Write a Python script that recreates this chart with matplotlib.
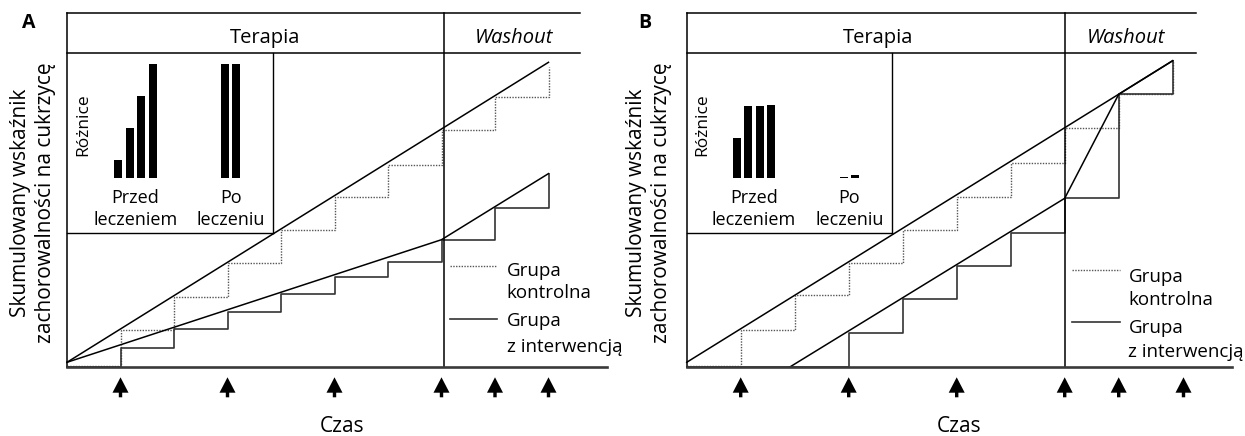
import matplotlib
matplotlib.use("Agg")
import matplotlib.pyplot as plt
import numpy as np

plt.rcParams['font.family'] = ['Open Sans', 'DejaVu Sans']

# time points of the step changes (both panels)
steps = [0, 1, 2, 3, 4, 5, 6, 7, 8, 9]

# panel A
a_control_steps = [0.13, 3.7, 7.0, 10.4, 13.7, 17.0, 20.2, 23.7, 27.0, 30.0]
a_interv_steps = [0.0, 1.9, 3.8, 5.5, 7.3, 9.0, 10.55, 12.7, 15.9, 19.3]
a_control_trend_t = [0, 9]
a_control_trend = [0.47, 30.47]
a_interv_trend_t = [0, 7, 9]
a_interv_trend = [0.47, 12.73, 19.34]
a_arrows = [1, 3, 5, 7, 8, 9]
a_bars_before = [1.6, 4.4, 7.2, 10.0]
a_bars_after = [10.0, 10.0]

# panel B
b_control_steps = [0.13, 3.7, 7.17, 10.41, 13.72, 17.02, 20.4, 23.87, 27.27, 30.63]
b_interv_steps = [0.0, 0.0, 0.0, 3.4, 6.78, 10.08, 13.35, 16.87, 27.27, 30.63]
b_control_trend_t = [0, 9]
b_control_trend = [0.47, 30.63]
b_interv_trend_t = [1.91, 7, 8, 9]
b_interv_trend = [0, 16.87, 27.27, 30.63]
b_arrows = [1, 3, 5, 7, 8, 9.2]
b_bars_before = [3.55, 6.3, 6.3, 6.4]
b_bars_after = [0.1, 0.3]

W, H = 1245, 436
fig = plt.figure(figsize=(W / 100, H / 100), dpi=100)

XMAX, YMAX = 10.1, 35.4
HEAD = 31.37
BOX_Y = 13.4


def panel(letter, x0, ppx, ctl, itv, ctl_t, ctl_tr, itv_t, itv_tr, arrows,
          before, after, top_end, div, box_r, bar_off, bar_sp, po_pos,
          ter_x, wash_x, yl_x, czas_x, leg):
    ax = fig.add_axes([x0 / W, (H - 367) / H, XMAX * ppx / W, YMAX * 10 / H])
    ax.set_xlim(0, XMAX)
    ax.set_ylim(0, YMAX)
    ax.axis('off')
    kw = dict(clip_on=False)

    # step curves
    ax.plot(steps, ctl, drawstyle='steps-post', color='#555555', lw=1.0,
            ls=(0, (1, 1)), **kw)
    ax.plot(steps, itv, drawstyle='steps-post', color='#333333', lw=1.2, **kw)
    # trend lines
    ax.plot(ctl_t, ctl_tr, color='black', lw=1.1, **kw)
    ax.plot(itv_t, itv_tr, color='black', lw=1.1, **kw)

    # frame
    ax.plot([0, top_end], [YMAX, YMAX], color='black', lw=1.1, **kw)
    ax.plot([0, top_end], [HEAD, HEAD], color='black', lw=1.1, **kw)
    ax.plot([0, 0], [0, YMAX], color='black', lw=1.1, **kw)
    ax.plot([div, div], [0, YMAX], color='black', lw=1.1, **kw)
    ax.plot([box_r, box_r], [BOX_Y, HEAD], color='black', lw=1.0, **kw)
    ax.plot([0, box_r], [BOX_Y, BOX_Y], color='black', lw=1.0, **kw)
    ax.plot([0, XMAX], [0, 0], color='#3a3a3a', lw=1.9, zorder=5, **kw)

    ax.text(ter_x, 32.43, 'Terapia', ha='center', va='baseline', fontsize=14.5)
    ax.text(wash_x, 32.43, 'Washout', ha='center', va='baseline', fontsize=14.5,
            style='italic')
    ax.text(yl_x - 0.07, 33.87, letter, ha='left', va='baseline', fontsize=14,
            fontweight='bold')

    # arrows under the time axis
    hw, sw = 8 / ppx, 1.7 / ppx
    for t in arrows:
        xs = [t, t + hw, t + sw, t + sw, t - sw, t - sw, t - hw]
        ys = [-1.03, -2.57, -2.57, -3.03, -3.03, -2.57, -2.57]
        ax.fill(xs, ys, color='black', lw=0, **kw)

    ax.text(czas_x, -6.45, 'Czas', ha='center', va='baseline', fontsize=15)
    ax.text(yl_x, 16.4, 'Skumulowany wskaźnik', rotation=90,
            rotation_mode='anchor', ha='center', va='baseline', fontsize=15)
    ax.text(yl_x + 0.47, 16.4, 'zachorowalności na cukrzycę', rotation=90,
            rotation_mode='anchor', ha='center', va='baseline', fontsize=15)

    # legend
    lx0, lx1, ly_dot, ly_sol, tx, tb = leg
    ax.plot([lx0, lx1], [ly_dot, ly_dot], color='#555555', lw=1.0,
            ls=(0, (1, 1)), **kw)
    ax.plot([lx0, lx1], [ly_sol, ly_sol], color='#333333', lw=1.2, **kw)
    for txt, yb in zip(['Grupa', 'kontrolna', 'Grupa', 'z interwencją'], tb):
        ax.text(tx, yb, txt, ha='left', va='baseline', fontsize=13.5)

    # inset with differences
    box_w = box_r * ppx
    ins = fig.add_axes([x0 / W, (H - 233) / H, box_w / W, (233 - 53.3) / H])
    ins.axis('off')
    ins.set_xlim(-bar_off / bar_sp, (box_w - bar_off) / bar_sp)
    ins.set_ylim(-(233 - 178.3) / 11.43, (178.3 - 53.3) / 11.43)
    pos_b = np.arange(len(before))
    ins.bar(pos_b, before, width=8 / bar_sp, color='black')
    ins.bar(po_pos, after, width=8 / bar_sp, color='black')
    ins.text((-bar_off + 16) / bar_sp, 4.66, 'Różnice', rotation=90,
             ha='center', va='center', fontsize=12.5)
    for cx, l1, l2 in [(pos_b.mean(), 'Przed', 'leczeniem'),
                       (np.mean(po_pos), 'Po', 'leczeniu')]:
        ins.text(cx, -2.19, l1, ha='center', va='baseline', fontsize=13)
        ins.text(cx, -4.09, l2, ha='center', va='baseline', fontsize=13)


panel('A', 67, 53.5, a_control_steps, a_interv_steps,
      a_control_trend_t, a_control_trend, a_interv_trend_t, a_interv_trend,
      a_arrows, a_bars_before, a_bars_after,
      top_end=9.59, div=7.05, box_r=3.85, bar_off=51, bar_sp=11.67,
      po_pos=[9.19, 10.14], ter_x=3.71, wash_x=8.36, yl_x=-0.77, czas_x=5.14,
      leg=(7.16, 8.03, 10.1, 4.77, 8.22, [9.13, 6.87, 4.1, 1.53]))

panel('B', 686.7, 54.0, b_control_steps, b_interv_steps,
      b_control_trend_t, b_control_trend, b_interv_trend_t, b_interv_trend,
      b_arrows, b_bars_before, b_bars_after,
      top_end=9.44, div=7.0, box_r=3.8, bar_off=50.3, bar_sp=11.33,
      po_pos=[9.4, 10.41], ter_x=3.54, wash_x=8.13, yl_x=-0.83, czas_x=5.05,
      leg=(7.13, 8.02, 9.7, 4.53, 8.18, [8.53, 6.2, 3.37, 1.03]))

fig.savefig('out.png', dpi=100)
